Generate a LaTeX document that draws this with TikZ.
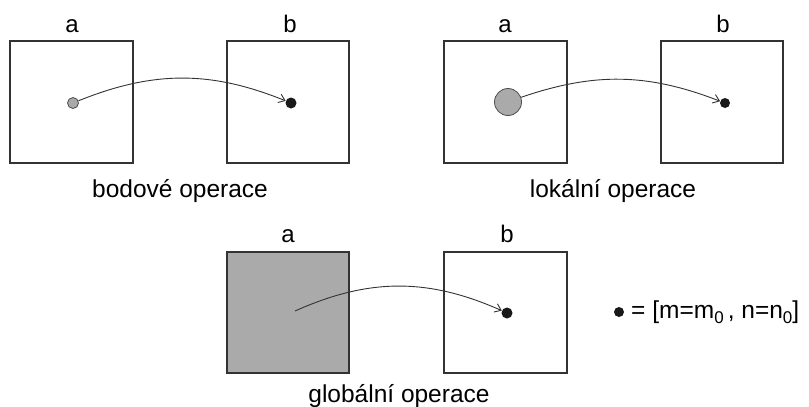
\documentclass[tikz,border=0pt]{standalone}
\usepackage{fontspec}
\setmainfont{Liberation Sans}
\usetikzlibrary{arrows.meta}
\definecolor{boxline}{HTML}{333333}
\definecolor{midgray}{HTML}{AAAAAA}
\newcommand{\lowzero}{\raisebox{-5pt}{\fontsize{17}{20}\selectfont 0}}
\begin{document}
\begin{tikzpicture}[x=1pt,y=-1pt,
  frame/.style={draw=boxline,line width=1.1pt},
  lbl/.style={anchor=base,inner sep=0pt,font=\fontsize{24}{28}\selectfont},
  captext/.style={anchor=base,inner sep=0pt,font=\fontsize{24.5}{28}\selectfont},
  bdot/.style={circle,fill=black!90,inner sep=0pt,minimum size=11pt},
  gdot/.style={circle,fill=midgray,draw=black!70,line width=0.8pt,inner sep=0pt},
  link/.style={draw=boxline,line width=0.9pt,-{Straight Barb[length=6pt,width=9pt]}}
]
\useasboundingbox (0,0) rectangle (809,407);
% --- bodove operace
\draw[frame] (10,41) rectangle (133,163);
\draw[frame] (227,41) rectangle (349,163);
\node[lbl] (a1) at (72,32) {a};
\node[lbl] (b1) at (290,32) {b};
\node[gdot,minimum size=11pt] (g1) at (73,103) {};
\node[bdot] (k1) at (291,103) {};
\draw[link] (g1) to[bend left=22] (k1);
\node[captext] (c1) at (180,197) {bodové operace};
% --- lokalni operace
\draw[frame] (444,41) rectangle (567,163);
\draw[frame] (661,41) rectangle (783,163);
\node[lbl] (a2) at (505,32) {a};
\node[lbl] (b2) at (723,32) {b};
\node[gdot,minimum size=27pt] (g2) at (508,102) {};
\node[bdot,minimum size=10pt] (k2) at (725,103) {};
\draw[link] (g2) to[bend left=20] (k2);
\node[captext] (c2) at (613,197) {lokální operace};
% --- globalni operace
\draw[frame,fill=midgray] (227,252) rectangle (349,373);
\draw[frame] (444,252) rectangle (567,373);
\node[lbl] (a3) at (288,242) {a};
\node[lbl] (b3) at (507,242) {b};
\coordinate (s3) at (295,311);
\node[bdot] (k3) at (507,313) {};
\draw[link] (s3) to[bend left=24] (k3);
\node[captext] (c3) at (399,402) {globální operace};
% --- legend
\node[bdot,minimum size=10pt] (ld) at (619,312) {};
\node[anchor=base west,inner sep=0pt,font=\fontsize{24.5}{28}\selectfont] (lt) at (631,318) {= [m=m\lowzero\,, n=n\lowzero]};
\end{tikzpicture}
\end{document}
